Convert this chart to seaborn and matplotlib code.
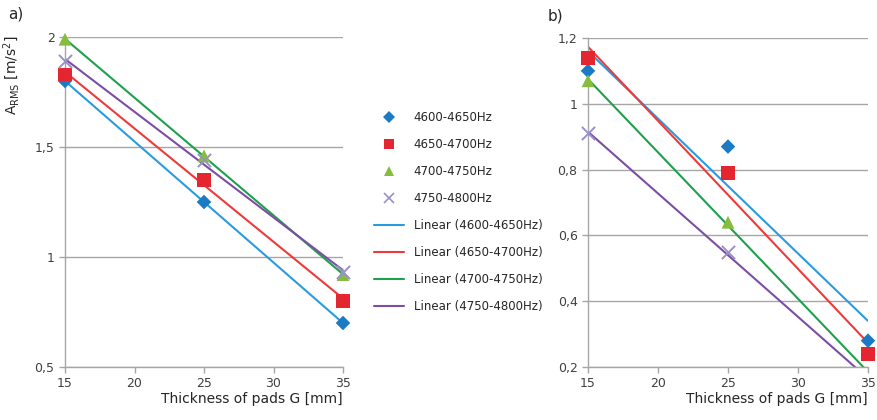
import matplotlib
matplotlib.use("Agg")
import matplotlib.pyplot as plt
from matplotlib.lines import Line2D
import numpy as np
import pandas as pd
import seaborn as sns

# Data
thickness = [15, 25, 35]
bands = ["4600-4650Hz", "4650-4700Hz", "4700-4750Hz", "4750-4800Hz"]

arms_a = {
    "4600-4650Hz": [1.80, 1.25, 0.70],
    "4650-4700Hz": [1.83, 1.35, 0.80],
    "4700-4750Hz": [1.99, 1.46, 0.92],
    "4750-4800Hz": [1.89, 1.44, 0.93],
}
arms_b = {
    "4600-4650Hz": [1.10, 0.87, 0.28],
    "4650-4700Hz": [1.14, 0.79, 0.24],
    "4700-4750Hz": [1.07, 0.64, 0.18],
    "4750-4800Hz": [0.91, 0.55, 0.16],
}

marker_colors = ["#1a7bc4", "#e3262f", "#86bd3f", "#9b8fc9"]
line_colors = ["#2a9be0", "#ee3a3a", "#1fa04c", "#7c4ea3"]
markers = ["D", "s", "^", "x"]
marker_sizes = [55, 95, 85, 90]


def to_long(d):
    rows = []
    for band, vals in d.items():
        for t, v in zip(thickness, vals):
            rows.append({"G": t, "A": v, "band": band})
    return pd.DataFrame(rows)


df_a = to_long(arms_a)
df_b = to_long(arms_b)

sns.set_style("white")
plt.rcParams["font.family"] = ["DejaVu Sans"]

fig = plt.figure(figsize=(8.77, 4.2), dpi=100)
ax_a = fig.add_axes([65 / 877, 1 - 367 / 420, 278 / 877, 330 / 420])
ax_b = fig.add_axes([588 / 877, 1 - 367 / 420, 280 / 877, 329 / 420])


def draw(ax, df, ylim, yticks, yfmt):
    for i, band in enumerate(bands):
        sub = df[df["band"] == band]
        sns.regplot(data=sub, x="G", y="A", ax=ax, scatter=False, ci=None,
                    color=line_colors[i], line_kws={"lw": 1.5, "zorder": 2})
        # points outside the value axis are hidden, like in the source chart
        shown = sub[(sub["A"] >= ylim[0]) & (sub["A"] <= ylim[1])]
        n_before = len(ax.collections)
        sns.scatterplot(data=shown, x="G", y="A", ax=ax, marker=markers[i],
                        color=marker_colors[i], s=marker_sizes[i],
                        linewidth=1.4 if markers[i] == "x" else 0,
                        edgecolor=marker_colors[i] if markers[i] == "x" else "none",
                        zorder=3, legend=False)
        for c in ax.collections[n_before:]:
            c.set_clip_on(False)
    ax.set_xlim(15, 35)
    ax.set_ylim(*ylim)
    ax.set_xticks([15, 20, 25, 30, 35])
    ax.set_yticks(yticks)
    ax.set_yticklabels([yfmt(v) for v in yticks])
    ax.yaxis.grid(True, color="#a6a6a6", lw=1)
    ax.xaxis.grid(False)
    for s in ["top", "right"]:
        ax.spines[s].set_visible(False)
    for s in ["left", "bottom"]:
        ax.spines[s].set_color("#a6a6a6")
        ax.spines[s].set_linewidth(1)
    ax.tick_params(axis="both", which="major", length=4, width=1, color="#a6a6a6",
                   labelsize=9, labelcolor="#404040", direction="out",
                   bottom=True, left=True)
    ax.set_ylabel("")
    ax.set_xlabel("Thickness of pads G [mm]", fontsize=10, color="#262626",
                  loc="right", labelpad=1)


draw(ax_a, df_a, (0.5, 2.0), [0.5, 1.0, 1.5, 2.0],
     lambda v: f"{v:g}".replace(".", ","))
draw(ax_b, df_b, (0.2, 1.2), [0.2, 0.4, 0.6, 0.8, 1.0, 1.2],
     lambda v: f"{v:g}".replace(".", ","))

ax_a.set_ylabel(r"A$_{\mathrm{RMS}}$ [m/s$^2$]", fontsize=10, color="#262626",
                labelpad=4)
ax_a.yaxis.set_label_coords(-0.155, 0.885)

fig.text(8 / 877, 1 - 14 / 420, "a)", fontsize=11, color="#262626", va="center")
fig.text(548 / 877, 1 - 16 / 420, "b)", fontsize=11, color="#262626", va="center")

handles = []
labels = []
for i, band in enumerate(bands):
    handles.append(Line2D([], [], ls="none", marker=markers[i], color=marker_colors[i],
                          markersize=7 if markers[i] != "D" else 6,
                          markeredgewidth=1.2 if markers[i] == "x" else 0))
    labels.append(band)
for i, band in enumerate(bands):
    handles.append(Line2D([], [], color=line_colors[i], lw=1.5))
    labels.append(f"Linear ({band})")

fig.legend(handles, labels, loc="center", bbox_to_anchor=(458 / 877, 1 - 212 / 420),
           frameon=False, fontsize=8.5, labelspacing=1.18, handlelength=2.6,
           handletextpad=0.8, labelcolor="#262626")

fig.savefig("out.png", dpi=100)
